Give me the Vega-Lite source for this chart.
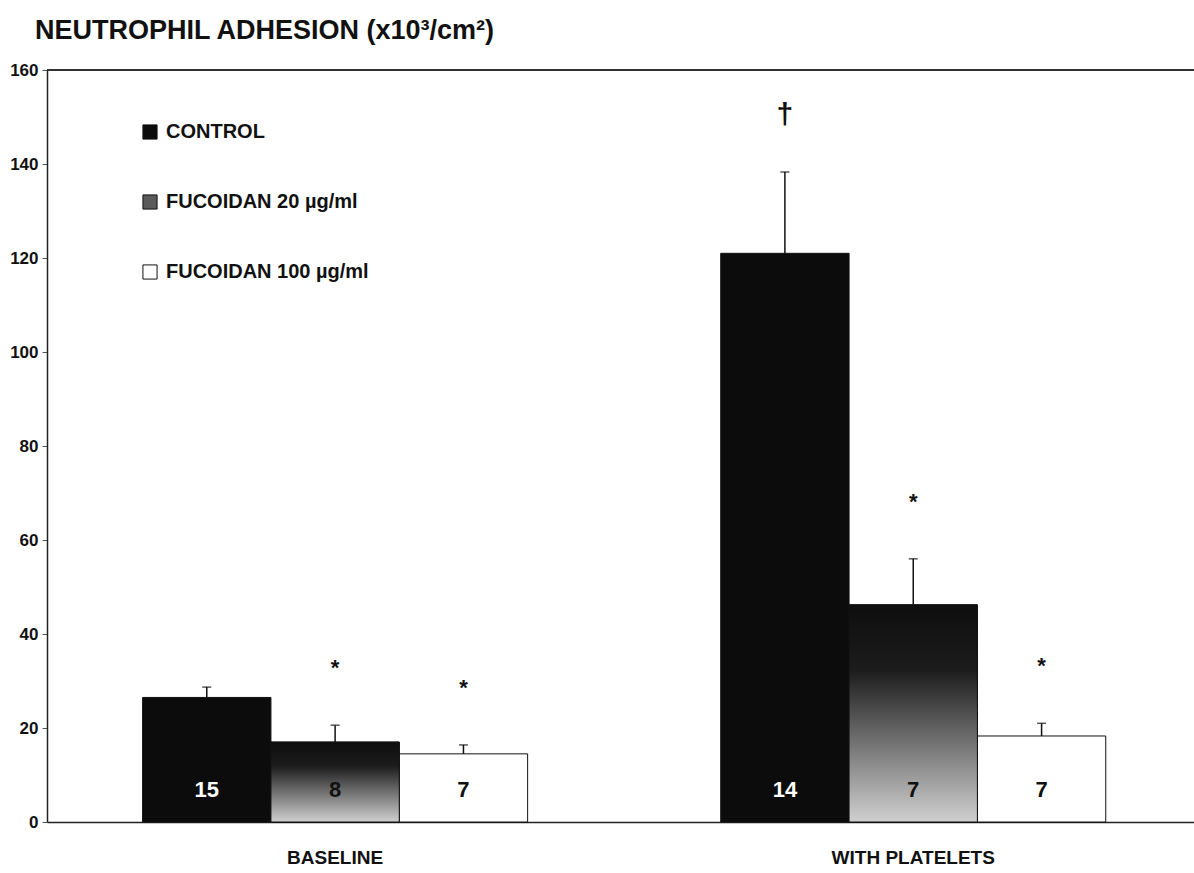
{
  "$schema": "https://vega.github.io/schema/vega-lite/v6.json",
  "width": 1147,
  "height": 752,
  "autosize": {"type": "none"},
  "padding": {"left": 47, "top": 70, "right": 0, "bottom": 51},
  "background": "white",
  "title": {
    "text": "NEUTROPHIL ADHESION (x10³/cm²)",
    "anchor": "start",
    "frame": "group",
    "dx": -12,
    "offset": 16,
    "fontSize": 27,
    "font": "Liberation Sans",
    "fontWeight": "bold",
    "color": "#111111"
  },
  "config": {"view": {"stroke": null}, "font": "Liberation Sans"},
  "data": {
    "values": [
      {"phase": "BASELINE", "group": "CONTROL", "mean": 26.5, "upper": 28.7, "n": "15", "sig": ""},
      {"phase": "BASELINE", "group": "FUCOIDAN 20 µg/ml", "mean": 17.0, "upper": 20.6, "n": "8", "sig": "*"},
      {"phase": "BASELINE", "group": "FUCOIDAN 100 µg/ml", "mean": 14.5, "upper": 16.4, "n": "7", "sig": "*"},
      {"phase": "WITH PLATELETS", "group": "CONTROL", "mean": 121.0, "upper": 138.3, "n": "14", "sig": "†"},
      {"phase": "WITH PLATELETS", "group": "FUCOIDAN 20 µg/ml", "mean": 46.2, "upper": 56.0, "n": "7", "sig": "*"},
      {"phase": "WITH PLATELETS", "group": "FUCOIDAN 100 µg/ml", "mean": 18.3, "upper": 21.0, "n": "7", "sig": "*"}
    ]
  },
  "layer": [
    {
      "mark": {"type": "bar", "stroke": "#111111", "strokeWidth": 1},
      "encoding": {
        "x": {
          "field": "phase", "type": "nominal", "sort": ["BASELINE", "WITH PLATELETS"],
          "scale": {"paddingInner": 0.334, "paddingOuter": 0.159, "align": 0.52},
          "axis": {
            "title": null, "labelAngle": 0, "labelFontSize": 19, "labelFontWeight": "bold",
            "labelColor": "#111111", "labelPadding": 26, "ticks": false,
            "domainColor": "#222222", "domainWidth": 1.5
          }
        },
        "xOffset": {
          "field": "group", "type": "nominal",
          "sort": ["CONTROL", "FUCOIDAN 20 µg/ml", "FUCOIDAN 100 µg/ml"],
          "scale": {"paddingInner": 0, "paddingOuter": 0}
        },
        "y": {
          "field": "mean", "type": "quantitative",
          "scale": {"domain": [0, 160], "nice": false},
          "axis": {
            "title": null, "values": [0, 20, 40, 60, 80, 100, 120, 140, 160],
            "tickSize": 5, "labelPadding": 4, "labelFontSize": 17, "labelFontWeight": "bold",
            "labelColor": "#111111", "domainColor": "#222222", "domainWidth": 1.5,
            "tickColor": "#555555", "grid": false
          }
        },
        "color": {
          "field": "group", "type": "nominal",
          "scale": {
            "domain": ["CONTROL", "FUCOIDAN 20 µg/ml", "FUCOIDAN 100 µg/ml"],
            "range": ["#0c0c0c", "#5a5a5a", "#ffffff"]
          },
          "legend": {
            "orient": "none", "legendX": 93, "legendY": 52, "title": null,
            "symbolType": "square", "symbolSize": 200, "symbolStrokeColor": "#111111",
            "symbolStrokeWidth": 1, "labelFontSize": 20, "labelFontWeight": "bold",
            "labelColor": "#111111", "rowPadding": 50, "labelOffset": 6, "labelLimit": 400
          }
        }
      }
    },
    {
      "transform": [{"filter": "datum.group == 'FUCOIDAN 20 µg/ml'"}],
      "mark": {
        "type": "bar", "stroke": "#111111", "strokeWidth": 1,
        "color": {"gradient": "linear", "x1": 0, "y1": 0, "x2": 0, "y2": 1,
          "stops": [{"offset": 0, "color": "#0e0e0e"}, {"offset": 0.3, "color": "#1c1c1c"}, {"offset": 1, "color": "#d0d0d0"}]}
      },
      "encoding": {
        "x": {"field": "phase", "type": "nominal", "sort": ["BASELINE", "WITH PLATELETS"]},
        "xOffset": {"field": "group", "type": "nominal", "sort": ["CONTROL", "FUCOIDAN 20 µg/ml", "FUCOIDAN 100 µg/ml"]},
        "y": {"field": "mean", "type": "quantitative"}
      }
    },
    {
      "mark": {"type": "rule", "color": "#111111", "strokeWidth": 1.5},
      "encoding": {
        "x": {"field": "phase", "type": "nominal", "sort": ["BASELINE", "WITH PLATELETS"]},
        "xOffset": {"field": "group", "type": "nominal", "sort": ["CONTROL", "FUCOIDAN 20 µg/ml", "FUCOIDAN 100 µg/ml"]},
        "y": {"field": "mean", "type": "quantitative"},
        "y2": {"field": "upper"}
      }
    },
    {
      "mark": {"type": "tick", "color": "#111111", "size": 9, "thickness": 1.5},
      "encoding": {
        "x": {"field": "phase", "type": "nominal", "sort": ["BASELINE", "WITH PLATELETS"]},
        "xOffset": {"field": "group", "type": "nominal", "sort": ["CONTROL", "FUCOIDAN 20 µg/ml", "FUCOIDAN 100 µg/ml"]},
        "y": {"field": "upper", "type": "quantitative"}
      }
    },
    {
      "transform": [{"filter": "datum.sig != ''"}],
      "mark": {"type": "text", "dy": -57, "baseline": "middle", "fontWeight": "bold", "color": "#111111"},
      "encoding": {
        "x": {"field": "phase", "type": "nominal", "sort": ["BASELINE", "WITH PLATELETS"]},
        "xOffset": {"field": "group", "type": "nominal", "sort": ["CONTROL", "FUCOIDAN 20 µg/ml", "FUCOIDAN 100 µg/ml"]},
        "y": {"field": "upper", "type": "quantitative"},
        "text": {"field": "sig"},
        "size": {"field": "sig", "type": "nominal", "scale": {"domain": ["*", "†"], "range": [22, 30]}, "legend": null}
      }
    },
    {
      "mark": {"type": "text", "dy": -32, "baseline": "middle", "fontWeight": "bold", "fontSize": 22},
      "encoding": {
        "x": {"field": "phase", "type": "nominal", "sort": ["BASELINE", "WITH PLATELETS"]},
        "xOffset": {"field": "group", "type": "nominal", "sort": ["CONTROL", "FUCOIDAN 20 µg/ml", "FUCOIDAN 100 µg/ml"]},
        "y": {"datum": 0},
        "text": {"field": "n"},
        "color": {"condition": {"test": "datum.group == 'CONTROL'", "value": "#ffffff"}, "value": "#111111"}
      }
    },
    {
      "mark": {"type": "rule", "color": "#333333", "strokeWidth": 1.5},
      "encoding": {"y": {"datum": 160}}
    }
  ]
}
